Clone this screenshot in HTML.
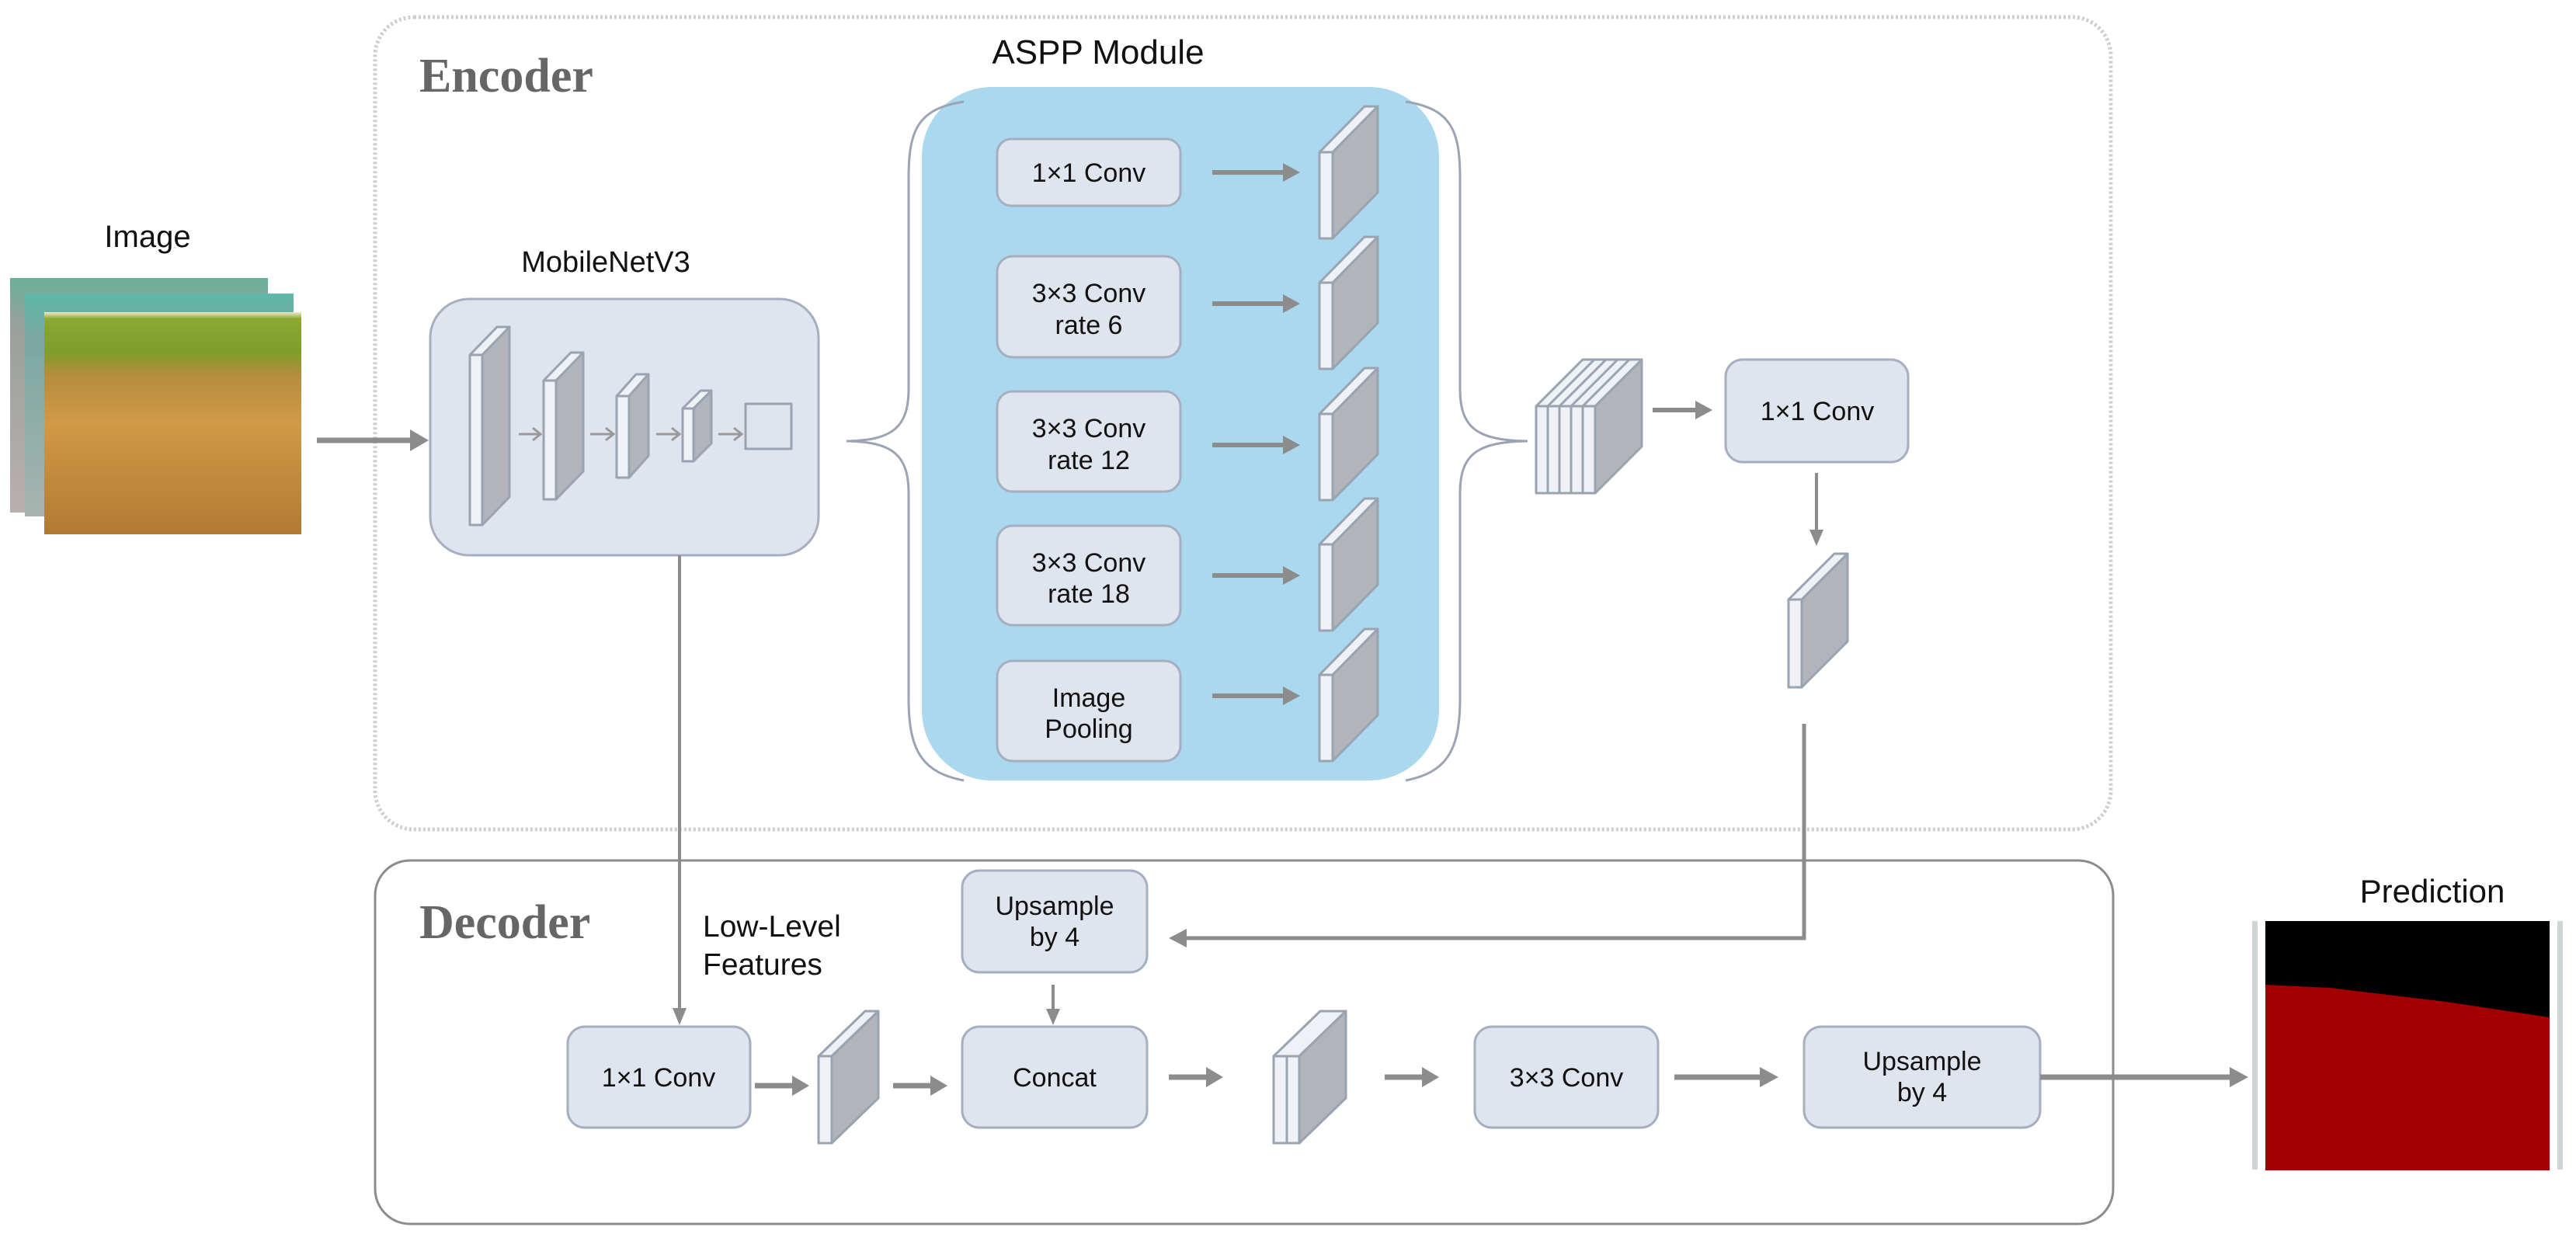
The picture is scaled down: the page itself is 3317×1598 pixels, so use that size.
<!DOCTYPE html>
<html><head><meta charset="utf-8"><style>
html,body{margin:0;padding:0;background:#fff;}
svg{display:block;}
text{font-family:"Liberation Sans",Arial,sans-serif;fill:#111;}
</style></head><body>
<svg width="3317" height="1598" viewBox="0 0 3317 1598" xmlns="http://www.w3.org/2000/svg">
<defs>
<linearGradient id="front" x1="0" y1="0" x2="0" y2="1">
<stop offset="0" stop-color="#f0e8c8"/><stop offset="0.03" stop-color="#8aa832"/><stop offset="0.18" stop-color="#7e9e2a"/><stop offset="0.28" stop-color="#b58c3e"/><stop offset="0.5" stop-color="#d09a48"/><stop offset="1" stop-color="#b07a34"/>
</linearGradient>
<linearGradient id="mid" x1="0" y1="0" x2="0" y2="1">
<stop offset="0" stop-color="#5fb8a8"/><stop offset="0.2" stop-color="#7aa8a0"/><stop offset="1" stop-color="#a8b4b0"/>
</linearGradient>
<linearGradient id="back" x1="0" y1="0" x2="0" y2="1">
<stop offset="0" stop-color="#6ab09a"/><stop offset="0.2" stop-color="#9aa09c"/><stop offset="1" stop-color="#b8b0ae"/>
</linearGradient>
</defs>

<rect x="483" y="22" width="2235" height="1046" rx="50" fill="#fff" stroke="#cfcfcf" stroke-width="5" stroke-dasharray="3 3"/>
<text x="540" y="118" style="font-family:'Liberation Serif',serif;font-weight:bold;font-size:62px;fill:#666">Encoder</text>
<rect x="483" y="1108" width="2238" height="468" rx="45" fill="#fff" stroke="#8c8c8c" stroke-width="3"/>
<text x="540" y="1208" style="font-family:'Liberation Serif',serif;font-weight:bold;font-size:62px;fill:#666">Decoder</text>

<text x="190" y="318" font-size="40" text-anchor="middle">Image</text>
<rect x="13" y="358" width="332" height="302" fill="url(#back)"/>
<rect x="32" y="378" width="346" height="287" fill="url(#mid)"/>
<rect x="57" y="402" width="331" height="286" fill="url(#front)"/>

<g fill="#8c8c8c" stroke="#8c8c8c">
<line x1="408" y1="567" x2="530" y2="567" stroke-width="7"/>
<polygon points="552,567 528,553 528,581" stroke="none"/>
</g>

<text x="780" y="350" font-size="38" text-anchor="middle">MobileNetV3</text>
<rect x="554" y="385" width="500" height="330" rx="50" fill="#dfe5ef" stroke="#a5afbf" stroke-width="3"/>
<g stroke="#9aa3b0" stroke-width="3" stroke-linejoin="round">
<polygon points="605,457 640,421 656,421 621,457" fill="#eef1f6"/><polygon points="621,457 656,421 656,640 621,676" fill="#b1b5bb"/><rect x="605" y="457" width="16" height="219" fill="#eef1f6"/>
<polygon points="700,490 735,454 751,454 716,490" fill="#eef1f6"/><polygon points="716,490 751,454 751,607 716,643" fill="#b1b5bb"/><rect x="700" y="490" width="16" height="153" fill="#eef1f6"/>
<polygon points="794,510 819,482 835,482 810,510" fill="#eef1f6"/><polygon points="810,510 835,482 835,587 810,615" fill="#b1b5bb"/><rect x="794" y="510" width="16" height="105" fill="#eef1f6"/>
<polygon points="879,526 902,503 916,503 893,526" fill="#eef1f6"/><polygon points="893,526 916,503 916,571 893,594" fill="#b1b5bb"/><rect x="879" y="526" width="14" height="68" fill="#eef1f6"/>
<rect x="960" y="520" width="59" height="58" fill="none"/>
</g>
<g stroke="#999" stroke-width="3" fill="none">
<path d="M668 559h28M686 551l10 8-10 8"/><path d="M760 559h30M780 551l10 8-10 8"/><path d="M845 559h30M865 551l10 8-10 8"/><path d="M925 559h30M945 551l10 8-10 8"/>
</g>

<text x="1414" y="82" font-size="44" text-anchor="middle">ASPP Module</text>
<rect x="1187" y="112" width="666" height="893" rx="90" fill="#a9d8ef"/>
<g fill="none" stroke="#9ba4b4" stroke-width="3">
<path d="M1241,131 C1180,140 1170,170 1170,230 L1170,500 C1170,550 1150,567 1090,568 C1150,569 1170,586 1170,636 L1170,900 C1170,970 1190,995 1241,1005"/>
<path d="M1810,131 C1870,140 1880,170 1880,230 L1880,500 C1880,550 1900,567 1967,568 C1900,569 1880,586 1880,636 L1880,900 C1880,970 1860,995 1810,1005"/>
</g>
<g fill="#dfe5ef" stroke="#a5afbf" stroke-width="3">
<rect x="1284" y="179" width="236" height="86" rx="18"/>
<rect x="1284" y="330" width="236" height="130" rx="20"/>
<rect x="1284" y="504" width="236" height="129" rx="20"/>
<rect x="1284" y="677" width="236" height="128" rx="20"/>
<rect x="1284" y="851" width="236" height="129" rx="20"/>
</g>
<g font-size="34" text-anchor="middle">
<text x="1402" y="234">1×1 Conv</text>
<text x="1402" y="389">3×3 Conv</text><text x="1402" y="430">rate 6</text>
<text x="1402" y="563">3×3 Conv</text><text x="1402" y="604">rate 12</text>
<text x="1402" y="736">3×3 Conv</text><text x="1402" y="776">rate 18</text>
<text x="1402" y="910">Image</text><text x="1402" y="950">Pooling</text>
</g>
<g fill="#8c8c8c" stroke="#8c8c8c">
<line x1="1561" y1="222" x2="1655" y2="222" stroke-width="6"/><polygon points="1674,222 1652,210 1652,234" stroke="none"/>
<line x1="1561" y1="391" x2="1655" y2="391" stroke-width="6"/><polygon points="1674,391 1652,379 1652,403" stroke="none"/>
<line x1="1561" y1="573" x2="1655" y2="573" stroke-width="6"/><polygon points="1674,573 1652,561 1652,585" stroke="none"/>
<line x1="1561" y1="741" x2="1655" y2="741" stroke-width="6"/><polygon points="1674,741 1652,729 1652,753" stroke="none"/>
<line x1="1561" y1="896" x2="1655" y2="896" stroke-width="6"/><polygon points="1674,896 1652,884 1652,908" stroke="none"/>
</g>
<g stroke="#9aa3b0" stroke-width="3" stroke-linejoin="round">
<g id="sl"><polygon points="1699,196 1757,137 1774,137 1716,196" fill="#eef1f6"/><polygon points="1716,196 1774,137 1774,248 1716,307" fill="#b1b5bb"/><rect x="1699" y="196" width="17" height="111" fill="#eef1f6"/></g>
<use href="#sl" y="168"/><use href="#sl" y="337"/><use href="#sl" y="505"/><use href="#sl" y="673"/>
</g>

<g stroke="#9aa3b0" stroke-width="3" stroke-linejoin="round">
<polygon points="2054,523 2114,463 2114,575 2054,635" fill="#b1b5bb"/>
<polygon points="1978,523 2038,463 2114,463 2054,523" fill="#eef1f6"/>
<rect x="1978" y="523" width="76" height="112" fill="#eef1f6"/>
<path d="M1993 523v112M2008 523v112M2023 523v112M2038 523v112M1993 523l60-60M2008 523l60-60M2023 523l60-60M2038 523l60-60" fill="none"/>
</g>
<g fill="#8c8c8c" stroke="#8c8c8c">
<line x1="2128" y1="528" x2="2185" y2="528" stroke-width="6"/><polygon points="2205,528 2183,516 2183,540" stroke="none"/>
</g>
<rect x="2222" y="463" width="235" height="132" rx="22" fill="#dfe5ef" stroke="#a5afbf" stroke-width="3"/>
<text x="2340" y="541" font-size="34" text-anchor="middle">1×1 Conv</text>
<g fill="#8c8c8c" stroke="#8c8c8c">
<line x1="2339" y1="609" x2="2339" y2="685" stroke-width="4"/><polygon points="2339,703 2330,682 2348,682" stroke="none"/>
</g>
<g stroke="#9aa3b0" stroke-width="3" stroke-linejoin="round">
<polygon points="2303,772 2362,713 2379,713 2320,772" fill="#eef1f6"/><polygon points="2320,772 2379,713 2379,826 2320,885" fill="#b1b5bb"/><rect x="2303" y="772" width="17" height="113" fill="#eef1f6"/>
</g>

<g fill="#8c8c8c" stroke="#8c8c8c">
<polyline points="2323,932 2323,1208 1525,1208" fill="none" stroke-width="5"/>
<polygon points="1505,1208 1528,1196 1528,1220" stroke="none"/>
<line x1="875" y1="715" x2="875" y2="1300" stroke-width="4"/>
<polygon points="875,1320 866,1298 884,1298" stroke="none"/>
<line x1="1356" y1="1268" x2="1356" y2="1302" stroke-width="4"/>
<polygon points="1356,1320 1347,1299 1365,1299" stroke="none"/>
</g>
<text x="905" y="1206" font-size="39">Low-Level</text>
<text x="905" y="1255" font-size="39">Features</text>

<g fill="#dfe5ef" stroke="#a5afbf" stroke-width="3">
<rect x="1239" y="1121" width="238" height="131" rx="22"/>
<rect x="731" y="1322" width="235" height="130" rx="22"/>
<rect x="1239" y="1322" width="238" height="130" rx="22"/>
<rect x="1899" y="1322" width="236" height="130" rx="22"/>
<rect x="2323" y="1322" width="304" height="130" rx="22"/>
</g>
<g font-size="34" text-anchor="middle">
<text x="1358" y="1178">Upsample</text><text x="1358" y="1218">by 4</text>
<text x="848" y="1399">1×1 Conv</text>
<text x="1358" y="1399">Concat</text>
<text x="2017" y="1399">3×3 Conv</text>
<text x="2475" y="1378">Upsample</text><text x="2475" y="1418">by 4</text>
</g>
<g stroke="#9aa3b0" stroke-width="3" stroke-linejoin="round">
<polygon points="1054,1360 1114,1302 1131,1302 1071,1360" fill="#eef1f6"/><polygon points="1071,1360 1131,1302 1131,1414 1071,1472" fill="#b1b5bb"/><rect x="1054" y="1360" width="17" height="112" fill="#eef1f6"/>
<polygon points="1640,1360 1700,1302 1733,1302 1673,1360" fill="#eef1f6"/><polygon points="1673,1360 1733,1302 1733,1414 1673,1472" fill="#b1b5bb"/><rect x="1640" y="1360" width="17" height="112" fill="#eef1f6"/><rect x="1657" y="1360" width="16" height="112" fill="#eef1f6"/>
</g>
<g fill="#8c8c8c" stroke="#8c8c8c">
<line x1="972" y1="1398" x2="1024" y2="1398" stroke-width="7"/><polygon points="1042,1398 1020,1385 1020,1411" stroke="none"/>
<line x1="1150" y1="1398" x2="1202" y2="1398" stroke-width="7"/><polygon points="1220,1398 1198,1385 1198,1411" stroke="none"/>
<line x1="1505" y1="1387" x2="1557" y2="1387" stroke-width="7"/><polygon points="1575,1387 1553,1374 1553,1400" stroke="none"/>
<line x1="1783" y1="1387" x2="1835" y2="1387" stroke-width="7"/><polygon points="1853,1387 1831,1374 1831,1400" stroke="none"/>
<line x1="2156" y1="1387" x2="2270" y2="1387" stroke-width="7"/><polygon points="2290,1387 2266,1374 2266,1400" stroke="none"/>
<line x1="2627" y1="1387" x2="2875" y2="1387" stroke-width="7"/><polygon points="2895,1387 2871,1374 2871,1400" stroke="none"/>
</g>

<text x="3132" y="1162" font-size="42" text-anchor="middle">Prediction</text>
<rect x="2900" y="1186" width="7" height="320" fill="#ccd6d6"/>
<rect x="3293" y="1186" width="7" height="320" fill="#ccd6d6"/>
<rect x="2917" y="1186" width="366" height="321" fill="#a20000"/>
<polygon points="2917,1186 3283,1186 3283,1310 3150,1290 3000,1272 2917,1268" fill="#000"/>
</svg>
</body></html>
